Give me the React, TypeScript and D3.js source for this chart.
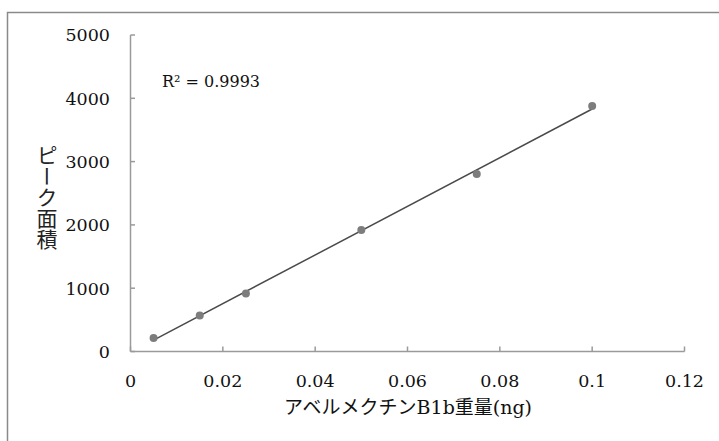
import React from "react";
import * as d3 from "d3";

const xValues = [0.005, 0.015, 0.025, 0.05, 0.075, 0.1];
const yValues = [212, 568, 916, 1921, 2806, 3879];
const xTicks = [0, 0.02, 0.04, 0.06, 0.08, 0.1, 0.12];
const yTicks = [0, 1000, 2000, 3000, 4000, 5000];
const xTitle = "アベルメクチンB1b重量(ng)";
const yTitle = "ピーク面積";
const r2Label = "R² = 0.9993";

const W = 719;
const H = 441;
const serif = "'DejaVu Serif', 'Liberation Serif', serif";
const cjk = "'Noto Sans CJK JP', sans-serif";

export default function App() {
  const x = d3.scaleLinear().domain([0, 0.12]).range([130.5, 684.5]);
  const y = d3.scaleLinear().domain([0, 5000]).range([351.5, 35]);

  const n = xValues.length;
  const mx = d3.mean(xValues) as number;
  const my = d3.mean(yValues) as number;
  let sxy = 0, sxx = 0;
  for (let i = 0; i < n; i++) {
    sxy += (xValues[i] - mx) * (yValues[i] - my);
    sxx += (xValues[i] - mx) ** 2;
  }
  const slope = sxy / sxx;
  const icpt = my - slope * mx;
  const x0 = d3.min(xValues) as number;
  const x1 = d3.max(xValues) as number;
  const line = d3.line<number>().x((d) => x(d)).y((d) => y(icpt + slope * d));

  const axisColor = "#9a9a9a";
  return (
    <svg width={W} height={H} style={{ position: "absolute", left: 0, top: 0 }}>
      <rect x={0} y={0} width={W} height={H} fill="#fff" />
      <rect x={7.5} y={12.5} width={W + 20} height={H + 20} fill="none" stroke="#8a8a8a" strokeWidth={1.5} />
      {/* y axis */}
      <line x1={x(0)} x2={x(0)} y1={y(0)} y2={y(5000)} stroke={axisColor} strokeWidth={1.5} />
      {yTicks.map((t) => (
        <g key={"y" + t}>
          <line x1={x(0)} x2={x(0) + 4.5} y1={y(t)} y2={y(t)} stroke={axisColor} strokeWidth={1.5} />
          <text x={110} y={y(t)} dy="0.36em" textAnchor="end" fontFamily={serif} fontSize={17.5} fill="#111">
            {t}
          </text>
        </g>
      ))}
      {/* x axis */}
      <line x1={x(0)} x2={x(0.12)} y1={y(0)} y2={y(0)} stroke={axisColor} strokeWidth={1.5} />
      {xTicks.map((t) => (
        <g key={"x" + t}>
          <line x1={x(t)} x2={x(t)} y1={y(0)} y2={y(0) - 5} stroke={axisColor} strokeWidth={1.5} />
          <text x={x(t)} y={387} textAnchor="middle" fontFamily={serif} fontSize={17.5} fill="#111">
            {String(t)}
          </text>
        </g>
      ))}
      {/* trendline */}
      <path d={line([x0, x1]) || ""} fill="none" stroke="#4a4a4a" strokeWidth={1.5} />
      {xValues.map((xv, i) => (
        <circle key={i} cx={x(xv)} cy={y(yValues[i])} r={4} fill="#7d7d7d" />
      ))}
      <text x={162} y={87} fontFamily={serif} fontSize={16} fill="#111">
        {r2Label}
      </text>
      <text x={408} y={414} textAnchor="middle" fontFamily={`'DejaVu Serif', ${cjk}`} fontSize={19} fill="#111">
        {xTitle}
      </text>
      <text
        x={47}
        y={197}
        textAnchor="middle"
        fontFamily={cjk}
        fontSize={21}
        fill="#222"
        style={{ writingMode: "vertical-rl" }}
      >
        {yTitle}
      </text>
    </svg>
  );
}
